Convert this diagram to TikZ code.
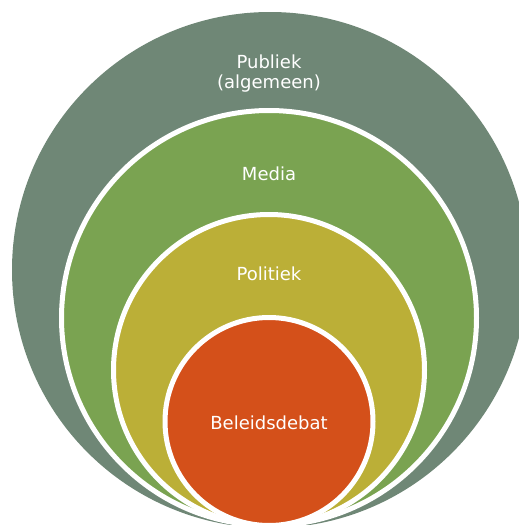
\documentclass[tikz,border=0pt]{standalone}
\usepackage{fontspec}
\setmainfont{DejaVu Sans}
\usetikzlibrary{shapes.geometric}

\definecolor{publiekgray}{HTML}{6F8776}
\definecolor{mediagreen}{HTML}{7AA351}
\definecolor{politiekolive}{HTML}{BBAF37}
\definecolor{beleidred}{HTML}{D4501A}

\tikzset{
  ring/.style={circle,draw=white,line width=5pt,inner sep=0pt},
  ringtext/.style={text=white,font=\fontsize{18}{20}\selectfont,align=center}
}

\begin{document}
\begin{tikzpicture}[x=1pt,y=1pt]

\useasboundingbox (0,0) rectangle (519,-525);

\node (publiek) at(270,-270) [circle,fill=publiekgray,inner sep=0pt,minimum size=516pt]{};
\node (media) at(269,-318) [ring,fill=mediagreen,minimum size=415pt]{};
\node (politiek) at(269,-370) [ring,fill=politiekolive,minimum size=311pt]{};
\node (beleid) at(269,-421.5) [ring,fill=beleidred,minimum size=208pt]{};

%\node [fill=white] at (269,-528) {};

\node (publiektext) at(269,-74) [ringtext]{Publiek\\(algemeen)};
\node (mediatext) at(269,-174) [ringtext]{Media};
\node (politiektext) at(269,-274) [ringtext]{Politiek};
\node (beleidtext) at(269,-423) [ringtext]{Beleidsdebat};

\end{tikzpicture}
\end{document}
